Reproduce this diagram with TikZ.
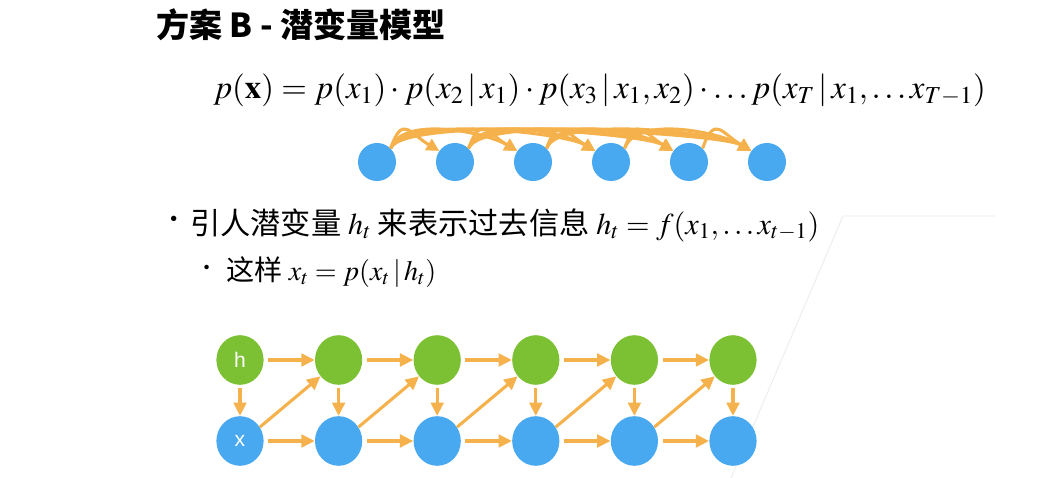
\documentclass[tikz,border=0pt]{standalone}
\usepackage{mathptmx}
\usepackage{fontspec}
\setmainfont{Liberation Serif}
\setsansfont{Liberation Sans}
\newfontfamily\cjk{Noto Sans CJK SC}
\usetikzlibrary{arrows.meta,shapes.geometric,positioning}

\definecolor{hgreen}{RGB}{124,193,51}
\definecolor{xblue}{RGB}{72,168,240}
\definecolor{arrorange}{RGB}{245,178,76}

\tikzset{
  hnode/.style={ellipse, fill=hgreen, minimum width=1.18cm, minimum height=1.24cm,
    inner sep=0pt, text=white, font=\sffamily\fontsize{15}{15}\selectfont},
  xnode/.style={hnode, fill=xblue},
  seqnode/.style={circle, fill=xblue, minimum size=0.95cm, inner sep=0pt},
  flow/.style={draw=arrorange, line width=2.2pt, -{Triangle[length=9.5pt,width=9pt]}},
  dep/.style={draw=arrorange, line width=2.2pt, -{Triangle[length=9pt,width=9pt]}},
  bullet/.style={inner sep=0pt, font=\cjk},
}

\begin{document}
\begin{tikzpicture}[x=0.025cm,y=-0.025cm]
\useasboundingbox (0,0) rectangle (1046,478);

% frame lines in the corner
\coordinate (corner) at (843,216);
\draw[black!8, line width=0.6pt] (996,216) -- (corner) -- (731,478);

% title
\node[anchor=west, inner sep=0pt] (title) at (156,25)
  {\cjk\bfseries\fontsize{23.5}{23.5}\selectfont 方案 B - 潜变量模型};

% joint distribution
\node[anchor=west, inner sep=0pt] (joint) at (213,90)
  {\fontsize{23.4}{23.4}\selectfont $p(\mathbf{x}) = p(x_1)\cdot p(x_2\,|\,x_1)\cdot p(x_3\,|\,x_1,x_2)\cdot \ldots p(x_T\,|\,x_1,\ldots x_{T-1})$};

% fully connected sequence
\foreach \i in {1,...,6}
  \node[seqnode] (s\i) at ({377+78*(\i-1)},162) {};
\foreach \i in {1,...,5}{
  \pgfmathtruncatemacro\k{\i+1}
  \foreach \j in {\k,...,6}
    \draw[dep] (s\i.45) .. controls +(12,-34) and +(-30,-18) .. (s\j.145);
}

% bullets
\node[bullet, font=\cjk\fontsize{18}{18}\selectfont] (dot1) at (174,222) {•};
\node[anchor=west, inner sep=0pt] (b1) at (190,225)
  {\fontsize{21.5}{21.5}\selectfont\cjk 引人潜变量 $h_t$ 来表示过去信息 $h_t = f(x_1, \ldots x_{t-1})$};
\node[bullet, font=\cjk\fontsize{15}{15}\selectfont] (dot2) at (207,270) {•};
\node[anchor=west, inner sep=0pt] (b2) at (226,272)
  {\fontsize{20}{20}\selectfont\cjk 这样 $x_t = p(x_t\,|\,h_t)$};

% latent chain
\node[hnode] (h1) at (240,360) {h};
\node[xnode] (x1) at (240,441) {x};
\foreach \i in {2,...,6}{
  \node[hnode] (h\i) at ({240+98.6*(\i-1)},360) {};
  \node[xnode] (x\i) at ({240+98.6*(\i-1)},441) {};
}
\foreach \i [count=\j from 2] in {1,...,5}{
  \draw[flow, shorten <=3pt] (h\i) -- (h\j);
  \draw[flow, shorten <=3pt] (x\i) -- (x\j);
  \draw[flow] (x\i.35) -- (h\j.222);
}
\foreach \i in {1,...,6}
  \draw[flow, shorten <=2pt] (h\i) -- (x\i);
\end{tikzpicture}
\end{document}
